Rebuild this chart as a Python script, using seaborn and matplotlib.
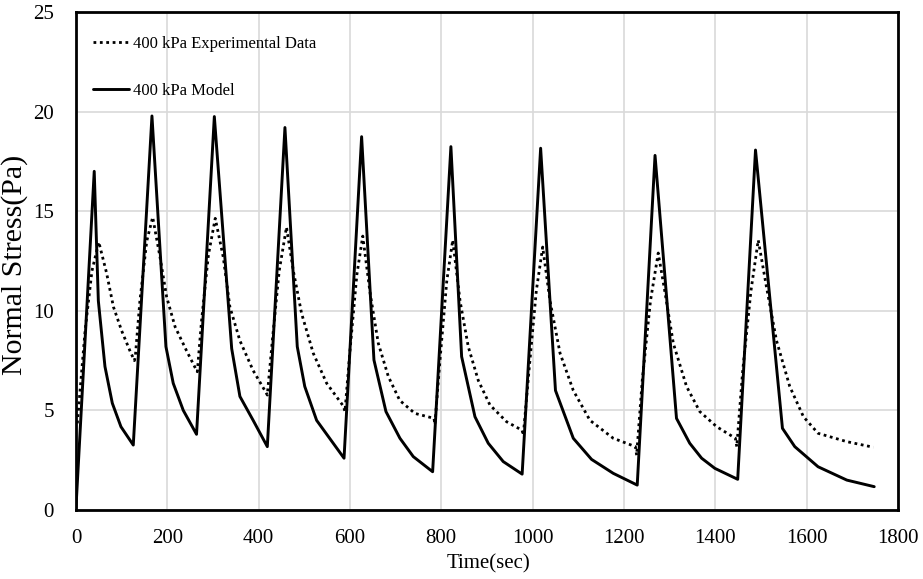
import numpy as np
import pandas as pd
import matplotlib
matplotlib.use("Agg")
import matplotlib.pyplot as plt
import seaborn as sns

# Model (solid) series
model_t = [0, 40, 49, 63.5, 79.6, 98.5, 125.5,
           166.4, 197, 213, 235, 264,
           303, 341, 359, 388, 419,
           457.6, 484.6, 501, 527, 587,
           625.5, 652.5, 678.8, 709.4, 738.6, 781,
           821, 844.5, 873.7, 902.8, 935.6, 977,
           1017.5, 1050, 1089, 1129, 1176.5, 1229,
           1268, 1315, 1344, 1370, 1399, 1449,
           1488, 1547, 1574, 1625, 1688, 1748]
model_y = [0.1, 17.0, 10.5, 7.2, 5.36, 4.18, 3.26,
           19.78, 8.2, 6.36, 5.0, 3.8,
           19.75, 8.1, 5.7, 4.5, 3.18,
           19.2, 8.2, 6.2, 4.5, 2.6,
           18.74, 7.53, 4.94, 3.6, 2.68, 1.92,
           18.24, 7.7, 4.68, 3.35, 2.43, 1.8,
           18.16, 6.0, 3.6, 2.54, 1.84, 1.25,
           17.8, 4.6, 3.35, 2.6, 2.09, 1.54,
           18.07, 4.1, 3.18, 2.17, 1.5, 1.17]

# Experimental (dotted) series
exp_t = [3, 20, 35, 50, 67, 82, 100, 118, 128, 130,
         140, 155, 168, 184, 198.5, 217, 242, 262, 265.7,
         275, 290, 305, 322.5, 337, 359, 388, 416, 419,
         430, 445, 461, 476, 494, 519.6, 549, 586, 589,
         600, 615, 628, 644, 662, 684, 709, 742, 784, 786,
         797, 812, 825, 841, 859, 881, 906.5, 943, 977, 979.5,
         992, 1008, 1022, 1038, 1060, 1089, 1125.5, 1176.5, 1225, 1227.7,
         1240, 1258, 1275, 1290, 1308, 1337, 1366, 1403, 1444, 1447,
         1460, 1478, 1494, 1512, 1534, 1563, 1593, 1625, 1688, 1746]
exp_y = [4.35, 9.0, 12.0, 13.45, 11.9, 10.2, 9.0, 8.0, 7.5, 7.7,
         10.5, 13.5, 14.7, 12.7, 10.7, 9.2, 8.0, 7.1, 6.94,
         9.5, 12.8, 14.64, 12.7, 10.2, 8.5, 7.0, 5.9, 5.77,
         8.5, 12.0, 14.2, 12.0, 9.87, 7.87, 6.36, 5.2, 4.94,
         8.0, 11.8, 13.75, 10.9, 8.37, 6.7, 5.5, 4.85, 4.6, 4.3,
         7.5, 11.5, 13.55, 10.5, 8.2, 6.5, 5.27, 4.43, 4.0, 3.75,
         7.0, 11.0, 13.2, 10.5, 7.87, 6.0, 4.5, 3.6, 3.18, 2.75,
         6.5, 10.5, 12.9, 10.9, 8.37, 6.2, 4.94, 4.18, 3.6, 3.18,
         7.0, 11.0, 13.55, 11.2, 8.5, 6.2, 4.68, 3.85, 3.43, 3.15]

x_ticks = [0, 200, 400, 600, 800, 1000, 1200, 1400, 1600, 1800]
y_ticks = [0, 5, 10, 15, 20, 25]

sns.set_theme(style="whitegrid")
plt.rcParams['font.family'] = ['Liberation Serif', 'DejaVu Serif']

fig = plt.figure(figsize=(9.23, 5.79), dpi=100)
ax = fig.add_axes([0.0823, 0.1192, 0.8906, 0.8601])

df_exp = pd.DataFrame({"t": exp_t, "y": exp_y})
df_mod = pd.DataFrame({"t": model_t, "y": model_y})

sns.lineplot(data=df_exp, x="t", y="y", ax=ax, color="black", lw=2.0,
             linestyle=(0, (1, 1.3)), sort=False, label="400 kPa Experimental Data")
sns.lineplot(data=df_mod, x="t", y="y", ax=ax, color="black", lw=2.1,
             sort=False, label="400 kPa Model")

ax.set_xlim(0, 1800)
ax.set_ylim(0, 25)
ax.set_xticks(x_ticks)
ax.set_yticks(y_ticks)
ax.grid(True, color="#d9d9d9", lw=1.2)
for s in ax.spines.values():
    s.set_color("black")
    s.set_linewidth(2.0)
ax.tick_params(axis="both", labelsize=15, colors="black", length=0)
ax.tick_params(axis="x", pad=14)
ax.tick_params(axis="y", pad=16)
ax.set_xlabel("Time(sec)", fontsize=15, color="black")
ax.set_ylabel("Normal Stress(Pa)", fontsize=21.5, color="black")
ax.xaxis.set_label_coords(0.502, -0.088)
ax.yaxis.set_label_coords(-0.058, 0.492)

leg = ax.legend(loc="upper left", bbox_to_anchor=(0.0, 0.985), frameon=False,
                fontsize=12, handlelength=2.2, handletextpad=0.2,
                labelspacing=1.85, borderaxespad=0.6)
for t in leg.get_texts():
    t.set_color("black")

fig.savefig("out.png", dpi=100)
